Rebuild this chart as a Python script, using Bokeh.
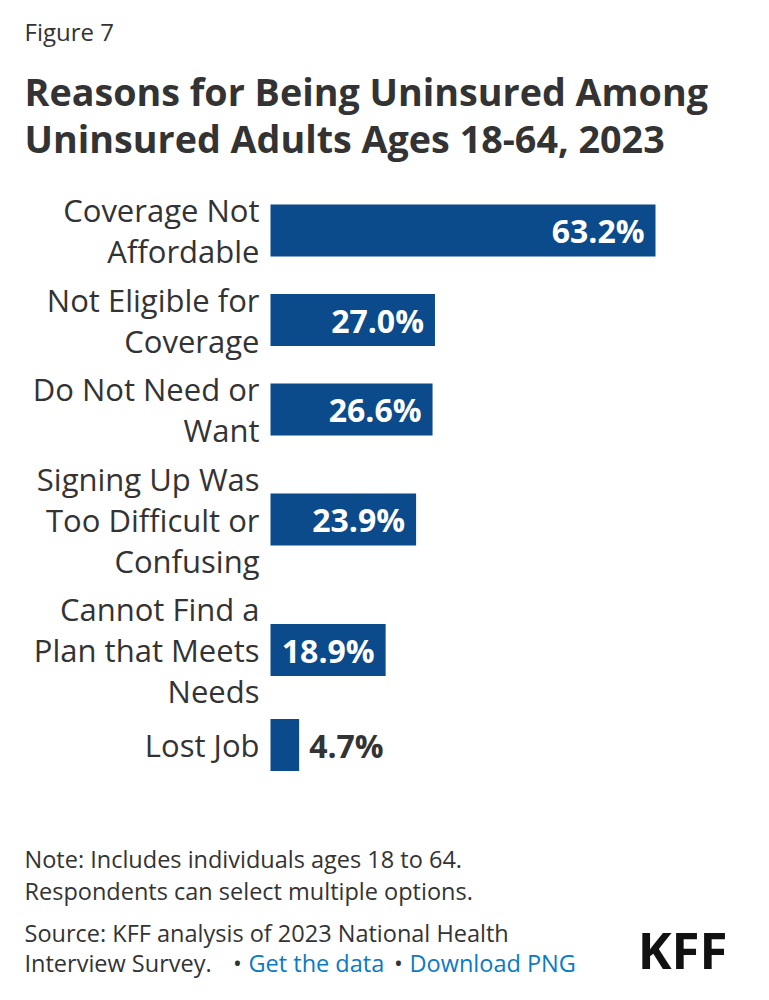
from bokeh.plotting import figure
from bokeh.models import Range1d
from bokeh.core.properties import value
from bokeh.embed import file_html
from bokeh.resources import INLINE

# ---- data ----
categories = [
    "Coverage Not\nAffordable",
    "Not Eligible for\nCoverage",
    "Do Not Need or\nWant",
    "Signing Up Was\nToo Difficult or\nConfusing",
    "Cannot Find a\nPlan that Meets\nNeeds",
    "Lost Job",
]
values = [63.2, 27.0, 26.6, 23.9, 18.9, 4.7]
value_labels = ["63.2%", "27.0%", "26.6%", "23.9%", "18.9%", "4.7%"]

fig_label = "Figure 7"
title_lines = ["Reasons for Being Uninsured Among", "Uninsured Adults Ages 18-64, 2023"]
note_lines = ["Note: Includes individuals ages 18 to 64.", "Respondents can select multiple options."]
source_line1 = "Source: KFF analysis of 2023 National Health"
source_line2 = "Interview Survey."
link1 = "Get the data"
link2 = "Download PNG"
logo = "KFF"

# ---- style / layout (page pixel coordinates) ----
FONT = "Open Sans"
DARK = "#333333"
BLUE = "#0b4a8b"
LINK = "#0a79c6"
W, H = 753, 984
M = 8
BAR_LEFT_PX = 278      # page px of 0 %
BAR_MAX_PX = 663       # page px of max value
LH = 41                # category label line height
BAR_H = 52
GAP = 7.5
FIRST_TOP = 197

k = (BAR_MAX_PX - BAR_LEFT_PX) / max(values)

p = figure(width=W, height=H, output_backend="svg", toolbar_location=None,
           x_range=Range1d((M - BAR_LEFT_PX) / k, (M + W - BAR_LEFT_PX) / k),
           y_range=Range1d(M + H, M), min_border=0)
p.extra_x_ranges = {"px": Range1d(M, M + W)}
p.axis.visible = False
p.grid.visible = False
p.outline_line_color = None
p.background_fill_color = "white"
p.border_fill_color = "white"

# row positions from label line counts
centers = []
top = FIRST_TOP
for c in categories:
    n = len(c.split("\n"))
    h = max(n * LH, BAR_H)
    centers.append(top + h / 2)
    top += h + GAP

p.hbar(y=centers, left=0, right=values, height=BAR_H, color=BLUE, line_color=None)

# category labels
lx, ly, lt = [], [], []
for c, yc in zip(categories, centers):
    lines = c.split("\n")
    n = len(lines)
    for i, t in enumerate(lines):
        lx.append(BAR_LEFT_PX - 11)
        ly.append(yc + (i - (n - 1) / 2) * LH)
        lt.append(t)
p.text(x=lx, y=ly, text=lt, x_range_name="px", text_font=value(FONT),
       text_font_size="31px", text_align="right", text_baseline="middle", text_color=DARK)

# value labels
inside = [i for i, v in enumerate(values) if v >= 10]
outside = [i for i, v in enumerate(values) if v < 10]
p.text(x=[values[i] for i in inside], y=[centers[i] for i in inside],
       text=[value_labels[i] for i in inside], x_offset=-11, text_font=value(FONT),
       text_font_size="32px", text_font_style="bold", text_align="right",
       text_baseline="middle", text_color="white")
p.text(x=[values[i] for i in outside], y=[centers[i] for i in outside],
       text=[value_labels[i] for i in outside], x_offset=10, text_font=value(FONT),
       text_font_size="32px", text_font_style="bold", text_align="left",
       text_baseline="middle", text_color=DARK)

# header
p.text(x=[32], y=[39], text=[fig_label], x_range_name="px", text_font=value(FONT),
       text_font_size="24px", text_align="left", text_baseline="middle", text_color=DARK)
p.text(x=[32, 32], y=[99, 146], text=title_lines, x_range_name="px", text_font=value(FONT),
       text_font_size="37.7px", text_font_style="bold", text_align="left",
       text_baseline="middle", text_color=DARK)

# footer
FS = "23.5px"
p.text(x=[32, 32], y=[866, 898], text=note_lines, x_range_name="px", text_font=value(FONT),
       text_font_size=FS, text_align="left", text_baseline="middle", text_color=DARK)
p.text(x=[32, 32], y=[940, 970], text=[source_line1, source_line2], x_range_name="px",
       text_font=value(FONT), text_font_size=FS, text_align="left",
       text_baseline="middle", text_color=DARK, text_line_height=1.0)
p.text(x=[245, 406], y=[970, 970], text=["\u2022", "\u2022"], x_range_name="px",
       text_font=value(FONT), text_font_size=FS, text_align="center",
       text_baseline="middle", text_color=DARK, text_line_height=1.0)
p.text(x=[256, 417], y=[970, 970], text=[link1, link2], x_range_name="px",
       text_font=value(FONT), text_font_size=FS, text_align="left",
       text_baseline="middle", text_color=LINK, text_line_height=1.0)
p.text(x=[735], y=[956], text=[logo], x_range_name="px", text_font=value(FONT),
       text_font_size="51px", text_font_style="bold", text_align="right",
       text_baseline="middle", text_color="#111111", text_line_height=0.9)

open("out.html", "w").write(file_html(p, INLINE))
